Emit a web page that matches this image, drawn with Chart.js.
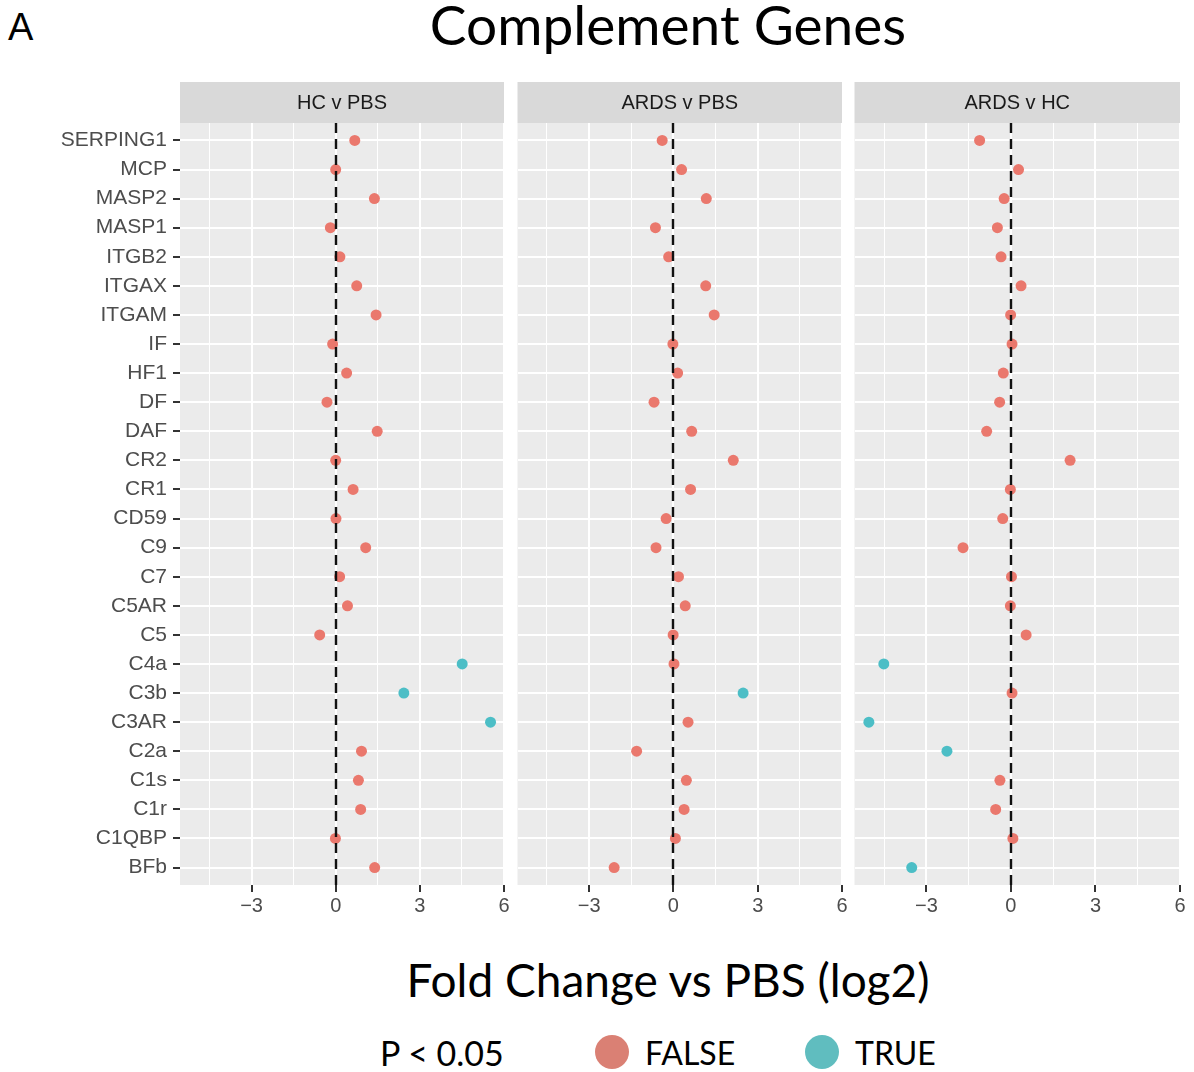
<!DOCTYPE html>
<html>
<head>
<meta charset="utf-8">
<title>Complement Genes</title>
<script src="https://cdn.jsdelivr.net/npm/chart.js@4.4.1/dist/chart.umd.min.js"></script>
<style>
  body { margin: 0; background: #fff; width: 1194px; height: 1072px; position: relative; overflow: hidden; }
  .txt { position: absolute; white-space: nowrap; line-height: 1; color: #000; }
  .lato { font-family: Lato, 'Open Sans', sans-serif; }
  canvas { position: absolute; }
  .dot { position: absolute; width: 34px; height: 34px; border-radius: 50%; }
</style>
</head>
<body>
<div class="txt" style="left:8px; top:6px; font:38px 'Liberation Sans', Arial, sans-serif;">A</div>
<div class="txt lato" style="left:668px; top:-3px; transform:translateX(-50%); font-size:55px;">Complement Genes</div>

<canvas id="panel1" width="515" height="843" style="left:0px; top:82px;"></canvas>
<canvas id="panel2" width="341" height="843" style="left:512px; top:82px;"></canvas>
<canvas id="panel3" width="342" height="843" style="left:849px; top:82px;"></canvas>

<div class="txt lato" style="left:668px; top:957px; transform:translateX(-50%); font-size:46px;">Fold Change vs PBS (log2)</div>
<div class="txt lato" style="left:380px; top:1036px; font-size:34px;">P &lt; 0.05</div>
<div class="dot" style="left:595px; top:1035px; background:#DA8074;"></div>
<div class="txt lato" style="left:645px; top:1037px; font-size:32px;">FALSE</div>
<div class="dot" style="left:805px; top:1035px; background:#60BDBF;"></div>
<div class="txt lato" style="left:855px; top:1037px; font-size:32px;">TRUE</div>

<script>
// genes, top to bottom
const genes = ['SERPING1', 'MCP', 'MASP2', 'MASP1', 'ITGB2', 'ITGAX', 'ITGAM', 'IF', 'HF1', 'DF',
  'DAF', 'CR2', 'CR1', 'CD59', 'C9', 'C7', 'C5AR', 'C5', 'C4a', 'C3b', 'C3AR', 'C2a', 'C1s',
  'C1r', 'C1QBP', 'BFb'];

// log2 fold change per comparison (same order as genes)
const hcVsPbs = [0.68, 0.00, 1.38, -0.19, 0.15, 0.75, 1.44, -0.11, 0.39, -0.31,
  1.48, 0.00, 0.62, 0.01, 1.07, 0.14, 0.42, -0.57, 4.51, 2.43, 5.52, 0.92, 0.81,
  0.89, -0.01, 1.39];
const ardsVsPbs = [-0.40, 0.29, 1.17, -0.64, -0.17, 1.15, 1.45, -0.02, 0.15, -0.69,
  0.65, 2.13, 0.61, -0.26, -0.62, 0.18, 0.42, -0.01, 0.02, 2.48, 0.52, -1.31, 0.46,
  0.38, 0.07, -2.11];
const ardsVsHc = [-1.11, 0.27, -0.24, -0.48, -0.35, 0.36, -0.01, 0.04, -0.27, -0.40,
  -0.86, 2.10, -0.02, -0.29, -1.70, 0.02, -0.02, 0.54, -4.51, 0.04, -5.04, -2.27, -0.39,
  -0.54, 0.07, -3.52];

// genes with P < 0.05 in each comparison
const sigHcVsPbs = ['C4a', 'C3b', 'C3AR'];
const sigArdsVsPbs = ['C3b'];
const sigArdsVsHc = ['C4a', 'C3AR', 'C2a', 'BFb'];

const panelTitles = ['HC v PBS', 'ARDS v PBS', 'ARDS v HC'];
const xMajor = [-3, 0, 3, 6];
const xMinor = [-4.5, -1.5, 1.5, 4.5];

const COL_FALSE = '#EA786D';
const COL_TRUE = '#4CBEC6';
const STRIP_H = 41;
const axisFont = { family: "'Liberation Sans', Arial, sans-serif", size: 20 };
const geneFont = { family: "'Liberation Sans', Arial, sans-serif", size: 21 };

function fmtTick(v) {
  return v < 0 ? '\u2212' + Math.abs(v) : String(v);
}

// grey panel, facet strip and the dashed zero line
const facetDeco = {
  id: 'facetDeco',
  beforeDraw(chart, args, opts) {
    const { ctx, chartArea: a } = chart;
    ctx.save();
    ctx.fillStyle = '#EBEBEB';
    ctx.fillRect(a.left, a.top, a.width, a.height);
    ctx.fillStyle = '#D9D9D9';
    ctx.fillRect(a.left, a.top - STRIP_H, a.width, STRIP_H);
    ctx.fillStyle = '#1A1A1A';
    ctx.font = "20px 'Liberation Sans', Arial, sans-serif";
    ctx.textAlign = 'center';
    ctx.textBaseline = 'middle';
    ctx.fillText(opts.label, (a.left + a.right) / 2, a.top - STRIP_H / 2 + 1);
    ctx.restore();
  },
  afterDatasetsDraw(chart) {
    const { ctx, chartArea: a } = chart;
    const x = Math.round(chart.scales.x.getPixelForValue(0));
    ctx.save();
    ctx.strokeStyle = '#111';
    ctx.lineWidth = 2.4;
    ctx.setLineDash([10, 6]);
    ctx.beginPath();
    ctx.moveTo(x, a.top);
    ctx.lineTo(x, a.bottom);
    ctx.stroke();
    ctx.restore();
  }
};

function makePanel(id, title, values, sigGenes, showLabels) {
  const ns = [], sig = [];
  values.forEach((v, i) => {
    const pt = { x: v, y: i + 1 };
    if (sigGenes.includes(genes[i])) sig.push(pt); else ns.push(pt);
  });

  return new Chart(document.getElementById(id), {
    type: 'scatter',
    data: {
      datasets: [
        { label: 'FALSE', data: ns, backgroundColor: COL_FALSE, borderColor: COL_FALSE },
        { label: 'TRUE', data: sig, backgroundColor: COL_TRUE, borderColor: COL_TRUE }
      ]
    },
    options: {
      responsive: false,
      animation: false,
      events: [],
      layout: { padding: { top: STRIP_H, right: 11, left: showLabels ? 0 : 5, bottom: 0 } },
      elements: { point: { radius: 5.5, borderWidth: 0, hoverRadius: 5.5 } },
      plugins: {
        legend: { display: false },
        tooltip: { enabled: false },
        facetDeco: { label: title }
      },
      scales: {
        x: {
          type: 'linear',
          min: -5.55,
          max: 6,
          border: { display: false },
          afterBuildTicks: s => {
            s.ticks = [...xMinor, ...xMajor].sort((a, b) => a - b).map(v => ({ value: v }));
          },
          afterFit: s => { s.height = 40; },
          grid: {
            color: '#FFFFFF',
            lineWidth: c => xMinor.includes(c.tick && c.tick.value) ? 1 : 2,
            tickColor: c => xMinor.includes(c.tick && c.tick.value) ? 'rgba(0,0,0,0)' : '#333333',
            tickLength: 7,
            tickWidth: 2
          },
          ticks: {
            autoSkip: false,
            maxRotation: 0,
            padding: 2,
            color: '#4D4D4D',
            font: axisFont,
            callback: v => xMajor.includes(v) ? fmtTick(v) : ''
          }
        },
        y: {
          type: 'linear',
          min: 0.4,
          max: 26.6,
          reverse: true,
          border: { display: false },
          afterBuildTicks: s => {
            s.ticks = genes.map((g, i) => ({ value: i + 1 }));
          },
          afterFit: s => { s.width = showLabels ? 180 : 0; },
          grid: {
            color: '#FFFFFF',
            lineWidth: 2,
            drawTicks: showLabels,
            tickColor: '#333333',
            tickLength: 7,
            tickWidth: 2
          },
          ticks: {
            display: showLabels,
            autoSkip: false,
            padding: 6,
            color: '#4D4D4D',
            font: geneFont,
            callback: v => genes[v - 1]
          }
        }
      }
    },
    plugins: [facetDeco]
  });
}

makePanel('panel1', panelTitles[0], hcVsPbs, sigHcVsPbs, true);
makePanel('panel2', panelTitles[1], ardsVsPbs, sigArdsVsPbs, false);
makePanel('panel3', panelTitles[2], ardsVsHc, sigArdsVsHc, false);
</script>
</body>
</html>
